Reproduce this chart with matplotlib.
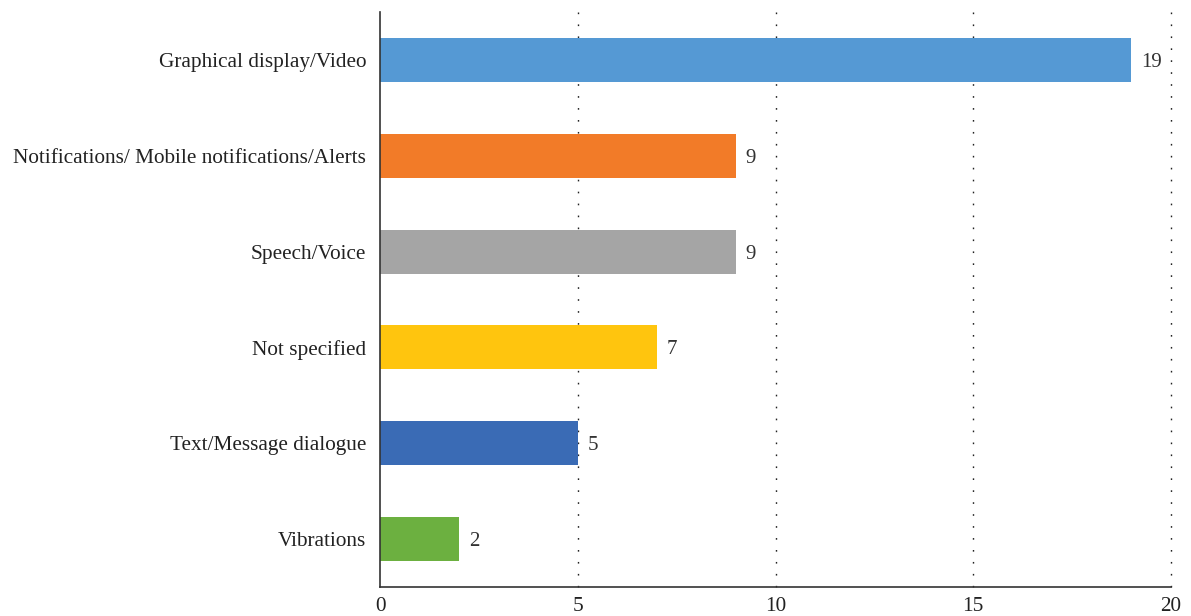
import matplotlib.pyplot as plt

# Output modalities and how many studies used each
categories = ["Graphical display/Video",
              "Notifications/ Mobile notifications/Alerts",
              "Speech/Voice",
              "Not specified",
              "Text/Message dialogue",
              "Vibrations"]
counts = [19, 9, 9, 7, 5, 2]
colors = ["#5599D4", "#F27B28", "#A5A5A5", "#FFC50E", "#3A6BB5", "#6CB040"]
xticks = [0, 5, 10, 15, 20]

plt.rcParams['font.family'] = ['Liberation Serif', 'DejaVu Serif']

fig = plt.figure(figsize=(11.91, 6.16), dpi=100)
ax = fig.add_axes([380 / 1191, 1 - 587 / 616, (1171 - 380) / 1191, (587 - 12) / 616])

# dotted guide lines behind the bars (none at zero)
for x in xticks[1:]:
    ax.axvline(x, linestyle=(0, (1.2, 7.4)), color='#222222', linewidth=1.0,
               zorder=0, clip_on=False)

ypos = list(range(len(categories)))
ax.barh(ypos, counts, height=0.46, color=colors, zorder=2)
for y, v in zip(ypos, counts):
    ax.text(v + 0.25, y, str(v), va='center_baseline', ha='left', fontsize=15, color='#333333')

ax.set_xlim(0, 20)
ax.set_ylim(len(categories) - 0.5, -0.5)
ax.set_yticks(ypos)
ax.set_yticklabels(categories, fontsize=15.3, color='#222222')
ax.set_xticks(xticks)
ax.tick_params(axis='both', length=0, labelsize=15.3, labelcolor='#222222')
ax.tick_params(axis='y', pad=10)
ax.tick_params(axis='x', pad=7)

for side in ['top', 'right']:
    ax.spines[side].set_visible(False)
for side in ['left', 'bottom']:
    ax.spines[side].set_color('#333333')
    ax.spines[side].set_linewidth(1.2)

fig.savefig("out.png", dpi=100)
